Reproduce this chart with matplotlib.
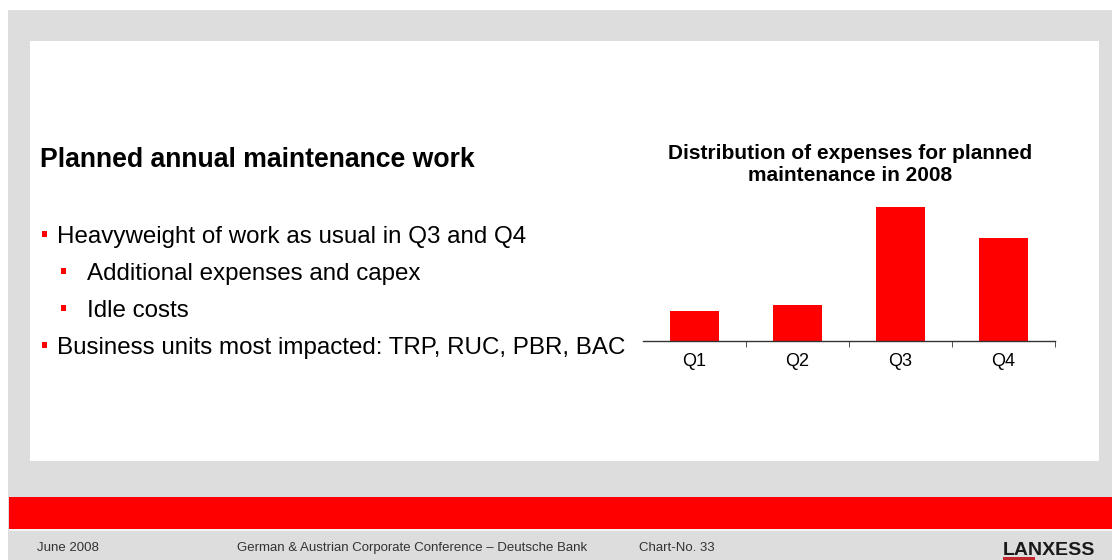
import matplotlib
matplotlib.use("Agg")
import matplotlib.pyplot as plt
from matplotlib.patches import Rectangle

# data
quarters = ["Q1", "Q2", "Q3", "Q4"]
share = [10, 12, 44, 34]

chart_title = "Distribution of expenses for planned\nmaintenance in 2008"
heading = "Planned annual maintenance work"
bullets = [
    (1, "Heavyweight of work as usual in Q3 and Q4"),
    (2, "Additional expenses and capex"),
    (2, "Idle costs"),
    (1, "Business units most impacted: TRP, RUC, PBR, BAC"),
]
footer = [("June 2008", 37), ("German & Austrian Corporate Conference \u2013 Deutsche Bank", 237),
          ("Chart-No. 33", 639)]

RED = "#FF0000"
GRAY = "#DDDDDD"
W, H = 1112, 560

plt.rcParams["font.family"] = ["Liberation Sans", "DejaVu Sans"]

fig = plt.figure(figsize=(W / 100, H / 100), dpi=100)
fig.patch.set_facecolor("white")


def px(x, y):
    # pixel coords from top-left -> figure fraction
    return x / W, 1 - y / H


def box(x0, y0, x1, y1, color):
    fx, fy = px(x0, y1)
    fig.patches.append(Rectangle((fx, fy), (x1 - x0) / W, (y1 - y0) / H,
                                 transform=fig.transFigure, color=color, lw=0, zorder=-1))


# slide background
box(8, 10, W, H, GRAY)
box(30, 41, 1099, 461, "white")
box(9, 497, W, 529, RED)
box(9, 529, W, 531, "#F4F4F4")

# left text block
fig.text(*px(40, 167), heading, fontsize=19.2, fontweight="bold", va="baseline")
ys = [243, 280, 317, 354]
for (lvl, txt), y in zip(bullets, ys):
    if lvl == 1:
        bx, tx = 42, 57
    else:
        bx, tx = 61, 87
    box(bx, y - 12, bx + 5, y - 6, RED)
    fig.text(*px(tx, y), txt, fontsize=17.4, va="baseline")

# bar chart
ax = fig.add_axes([643 / W, 1 - 341 / H, 412 / W, 152 / H])
ax.bar(range(len(quarters)), share, width=0.47, color=RED)
ax.set_xlim(-0.5, len(quarters) - 0.5)
ax.set_ylim(0, 50)
ax.set_facecolor("none")
for s in ["top", "right", "left"]:
    ax.spines[s].set_visible(False)
ax.spines["bottom"].set_color("#333333")
ax.spines["bottom"].set_linewidth(1)
ax.set_yticks([])
ax.set_xticks(range(len(quarters)))
ax.set_xticklabels(quarters, fontsize=13)
ax.tick_params(axis="x", which="major", length=0, pad=9)
ax.set_xticks([i + 0.5 for i in range(len(quarters))], minor=True)
ax.tick_params(axis="x", which="minor", length=4, color="#333333", direction="out")

fig.text(850 / W, 1 - 164.5 / H, chart_title, fontsize=15, fontweight="bold",
         ha="center", va="center", linespacing=1.2)

# footer
for txt, x in footer:
    fig.text(*px(x, 548), txt, fontsize=9.5, color="#333333", va="center")

fig.text(*px(1003, 555), "LANXESS", fontsize=14, fontweight="bold",
         color="#1A1A1A", va="baseline")
box(1003, 557, 1035, 560, "#C0282D")

fig.savefig("out.png", dpi=100, facecolor=fig.get_facecolor())
